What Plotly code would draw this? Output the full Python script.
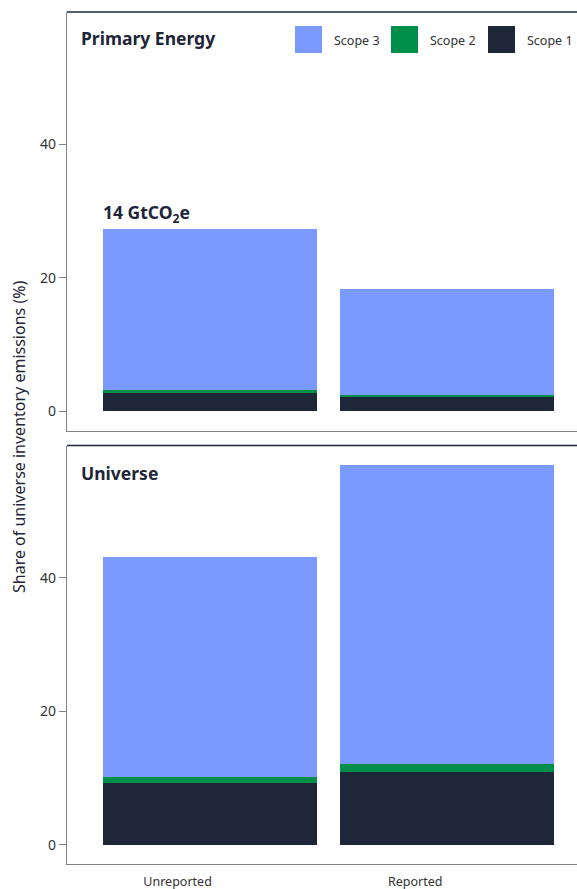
import plotly.graph_objects as go
from plotly.subplots import make_subplots

categories = ["Unreported", "Reported"]
series_names = ["Scope 1", "Scope 2", "Scope 3"]
primary_scope1 = [2.8, 2.2]
primary_scope2 = [0.45, 0.3]
primary_scope3 = [24.1, 15.8]
universe_scope1 = [9.3, 10.9]
universe_scope2 = [0.9, 1.2]
universe_scope3 = [32.9, 44.9]
y_ticks = [0, 20, 40]
panel_titles = ["Primary Energy", "Universe"]
annotation_text = "14 GtCO<sub>2</sub>e"

colors = {"Scope 1": "#1e2738", "Scope 2": "#008f4b", "Scope 3": "#7a9aff"}
FONT = "Noto Sans"
TXT = "#1e2538"

W, H = 577, 889
ML, MR, MT, MB = 67, 0, 12, 889 - 864
PW = W - ML - MR
PH = H - MT - MB

def px_x(p):
    return (p - ML) / PW

def px_y(p):
    return (H - MB - p) / PH

fig = make_subplots(rows=2, cols=1, shared_xaxes=False, vertical_spacing=15 / PH)

panels = [
    (primary_scope1, primary_scope2, primary_scope3),
    (universe_scope1, universe_scope2, universe_scope3),
]
for r, (s1, s2, s3) in enumerate(panels, start=1):
    for name, vals in zip(series_names, (s1, s2, s3)):
        fig.add_trace(
            go.Bar(x=categories, y=vals, name=name, marker_color=colors[name],
                   marker_line_width=0, width=0.9, showlegend=False),
            row=r, col=1,
        )

fig.update_layout(
    barmode="stack",
    width=W, height=H,
    margin=dict(l=ML, r=MR, t=MT, b=MB, autoexpand=False),
    paper_bgcolor="white", plot_bgcolor="white",
    font=dict(family=FONT, color=TXT),
)

axis_gray = "#7f8287"
for r in (1, 2):
    fig.update_xaxes(
        range=[-0.6, 1.546], showgrid=False, zeroline=False,
        showline=True, linecolor=axis_gray, linewidth=1.3,
        ticks="", showticklabels=(r == 2), automargin=False,
        tickfont=dict(size=12.5, color="#333", family=FONT),
        ticklabelshift=-32, ticklabelstandoff=6,
        row=r, col=1,
    )
    fig.update_yaxes(
        range=[-2.85, 59.85], showgrid=False, zeroline=False,
        showline=True, linecolor=axis_gray, linewidth=1.3, automargin=False,
        ticks="outside", ticklen=7, tickcolor=axis_gray, tickwidth=1.3,
        tickvals=y_ticks, tickfont=dict(size=14, color="#333", family=FONT),
        row=r, col=1,
    )

# dark top border lines on each panel
for xr, yr in (("x", "y"), ("x2", "y2")):
    fig.add_shape(type="line", xref=f"{xr} domain", yref=f"{yr} domain",
                  x0=0, x1=1, y0=1, y1=1, line=dict(color="#1e2538", width=1.5))

# y axis title spanning both panels
fig.add_annotation(
    text="Share of universe inventory emissions (%)", textangle=-90,
    xref="paper", yref="paper", x=px_x(19), y=px_y(437),
    xanchor="center", yanchor="middle", showarrow=False,
    font=dict(size=16, color=TXT, family=FONT),
)

# panel titles
for title, py in zip(panel_titles, (38, 473)):
    fig.add_annotation(
        text=f"<b>{title}</b>", xref="paper", yref="paper",
        x=px_x(79), y=px_y(py), xanchor="left", yanchor="middle",
        showarrow=False, font=dict(size=17.5, color=TXT, family=FONT),
    )

fig.add_annotation(
    text=f"<b>{annotation_text}</b>", xref="paper", yref="paper",
    x=px_x(101), y=px_y(213), xanchor="left", yanchor="middle",
    showarrow=False, font=dict(size=17.5, color=TXT, family=FONT),
)

# custom legend
legend_items = [("Scope 3", 295), ("Scope 2", 391), ("Scope 1", 488)]
for name, lx in legend_items:
    fig.add_shape(type="rect", xref="paper", yref="paper",
                  x0=px_x(lx), x1=px_x(lx + 27), y0=px_y(53), y1=px_y(26),
                  fillcolor=colors[name], line=dict(width=0))
    fig.add_annotation(
        text=name, xref="paper", yref="paper", x=px_x(lx + 37), y=px_y(40),
        xanchor="left", yanchor="middle", showarrow=False,
        font=dict(size=12.5, color="#333", family=FONT),
    )

fig.write_html(
    "out.html",
    config={"displayModeBar": False},
    post_script="document.body.style.margin='0px';document.body.style.overflow='hidden';",
)
